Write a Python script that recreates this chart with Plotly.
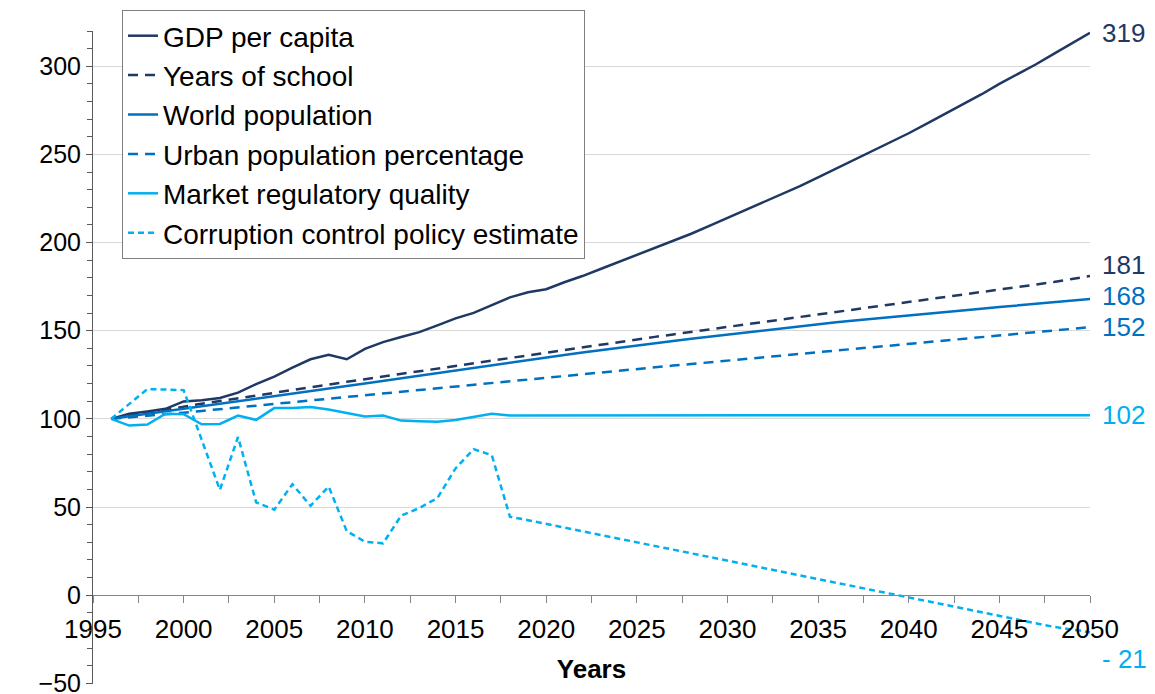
import plotly.graph_objects as go

years = list(range(1996, 2051))

gdp_per_capita = [
    100.0, 102.9, 104.2, 105.7, 109.9, 110.5, 111.8, 114.9, 119.7, 123.9,
    129.0, 133.8, 136.3, 133.8, 139.7, 143.5, 146.4, 149.2, 153.0, 157.0,
    160.1, 164.5, 168.9, 171.8, 173.5, 177.5, 181.0, 185.0, 189.0, 193.0,
    197.0, 201.0, 205.0, 209.5, 214.0, 218.5, 223.0, 227.5, 232.0, 237.0,
    242.0, 247.0, 252.0, 257.0, 262.0, 267.5, 273.0, 278.5, 284.0, 290.0,
    295.5, 301.0, 307.0, 313.0, 319.0,
]

years_of_school = [
    100.0, 101.8, 103.5, 105.2, 107.0, 108.6, 110.1, 111.7, 113.2, 114.8,
    116.3, 117.9, 119.4, 121.0, 122.5, 124.0, 125.6, 127.1, 128.7, 130.2,
    131.7, 133.3, 134.8, 136.4, 137.9, 139.3, 140.8, 142.2, 143.6, 145.0,
    146.5, 147.9, 149.3, 150.7, 152.1, 153.6, 155.0, 156.4, 157.8, 159.2,
    160.7, 162.1, 163.5, 164.9, 166.3, 167.7, 169.1, 170.5, 171.9, 173.3,
    174.8, 176.2, 177.6, 179.3, 181.0,
]

world_population = [
    100.0, 101.4, 102.8, 104.2, 105.6, 107.0, 108.4, 109.8, 111.2, 112.7,
    114.1, 115.6, 117.1, 118.6, 120.1, 121.6, 123.1, 124.6, 126.1, 127.6,
    129.1, 130.6, 132.0, 133.4, 134.8, 136.2, 137.6, 139.0, 140.3, 141.6,
    142.9, 144.2, 145.5, 146.7, 147.9, 149.1, 150.3, 151.5, 152.6, 153.7,
    154.8, 155.8, 156.8, 157.8, 158.8, 159.8, 160.7, 161.6, 162.5, 163.4,
    164.3, 165.2, 166.1, 167.0, 168.0,
]

urban_population_pct = [
    100.0, 100.8, 101.7, 102.6, 103.5, 104.5, 105.5, 106.5, 107.5, 108.5,
    109.5, 110.5, 111.5, 112.5, 113.5, 114.5, 115.5, 116.5, 117.5, 118.5,
    119.5, 120.5, 121.5, 122.5, 123.5, 124.5, 125.4, 126.4, 127.3, 128.3,
    129.2, 130.2, 131.1, 132.1, 133.0, 134.0, 134.9, 135.9, 136.8, 137.8,
    138.7, 139.7, 140.6, 141.6, 142.5, 143.5, 144.4, 145.4, 146.3, 147.3,
    148.2, 149.2, 150.1, 151.1, 152.0,
]

market_regulatory_quality = [
    100.0, 96.2, 96.8, 102.9, 102.6, 96.9, 97.1, 101.9, 99.4, 106.1,
    106.1, 106.7, 105.3, 103.2, 101.3, 101.9, 99.0, 98.7, 98.3, 99.4,
    101.0, 102.9, 101.9, 101.9, 101.9, 102.0, 102.0, 101.6, 101.6, 101.6,
    101.6, 101.6, 101.6, 101.6, 102.0, 102.0, 102.0, 102.0, 102.0, 102.0,
    102.1, 102.1, 101.7, 101.7, 101.7, 101.7, 101.7, 101.7, 101.7, 101.7,
    101.7, 101.7, 101.7, 102.0, 102.0,
]

corruption_control = [
    100.0, None, 116.9, None, 116.3, None, 59.7, 89.7, 52.6, 48.5,
    62.9, 50.7, 61.6, 36.3, 30.3, 29.4, 45.1, 49.4, 55.1, 71.9,
    82.8, 79.4, 44.5, 42.5, 40.4, 38.3, 36.2, 34.1, 32.0, 29.9,
    27.8, 25.7, 23.6, 21.5, 19.4, 17.3, 15.2, 13.1, 11.0, 8.9,
    6.8, 4.7, 2.6, 0.5, -1.6, -3.7, -5.8, -7.9, -10.0, -12.1,
    -14.2, -16.3, -18.0, -19.5, -21.0,
]

y_tick_values = [-50, 0, 50, 100, 150, 200, 250, 300]
x_tick_values = [1995, 2000, 2005, 2010, 2015, 2020, 2025, 2030, 2035, 2040, 2045, 2050]
end_labels = ["319", "181", "168", "152", "102", "- 21"]

NAVY = "#1F3864"
MID = "#0070C0"
LIGHT = "#00B0F0"
FONT = "Liberation Sans, Arial, sans-serif"

series = [
    ("GDP per capita", gdp_per_capita, NAVY, "solid"),
    ("Years of school", years_of_school, NAVY, "10px,7px"),
    ("World population", world_population, MID, "solid"),
    ("Urban population percentage", urban_population_pct, MID, "10px,7px"),
    ("Market regulatory quality", market_regulatory_quality, LIGHT, "solid"),
    ("Corruption control policy estimate", corruption_control, LIGHT, "6px,4px"),
]
label_shift = [0, 11, 3, 0, 0, -27]

fig = go.Figure()
for (name, vals, color, dash) in series:
    fig.add_trace(go.Scatter(
        x=years, y=vals, name=name, mode="lines", connectgaps=True,
        line=dict(color=color, width=2.5, dash=dash),
    ))

for (name, vals, color, dash), txt, sh in zip(series, end_labels, label_shift):
    fig.add_annotation(
        x=years[-1], y=vals[-1], text=txt, showarrow=False,
        xanchor="left", yanchor="middle", xshift=10, yshift=sh,
        font=dict(family=FONT, size=26, color=color),
    )

ymin, ymax = -50.4, 320
# the page body has an 8px margin, so the figure is 8px smaller and offset
W, H = 1147, 686
ML, MT = 85, 2
MR, MB = 65, 10
plot_h = H - MT - MB
plot_w = W - ML - MR
axis_top_px = 23  # figure px where the y axis starts
dom_top = 1 - (axis_top_px - MT) / plot_h
fig.update_layout(
    width=W, height=H,
    margin=dict(l=ML, r=MR, t=MT, b=MB, autoexpand=False),
    paper_bgcolor="white", plot_bgcolor="white",
    font=dict(family=FONT, size=24, color="black"),
    showlegend=True,
    legend=dict(
        x=(122 - 8 - ML) / plot_w, y=1, xanchor="left", yanchor="top",
        bgcolor="white", bordercolor="#7F7F7F", borderwidth=1,
        font=dict(family=FONT, size=28, color="black"),
        tracegroupgap=0,
    ),
    xaxis=dict(
        range=[1995, 2050], anchor="free",
        position=dom_top * (0 - ymin) / (ymax - ymin),
        tickmode="array", tickvals=x_tick_values,
        ticks="outside", ticklen=7, tickcolor="#868686",
        minor=dict(tick0=1995, dtick=2.5, ticks="outside", ticklen=7, tickcolor="#868686", showgrid=False),
        showline=True, linecolor="#868686", linewidth=1,
        showgrid=False, zeroline=False, automargin=False,
        ticklabelstandoff=4, ticklabeloverflow="allow",
        tickfont=dict(family=FONT, size=26, color="black"),
        title=dict(text="<b>Years</b>", font=dict(family=FONT, size=26, color="black"), standoff=16),
    ),
    yaxis=dict(
        domain=[0, dom_top],
        range=[ymin, ymax], tickmode="array", tickvals=y_tick_values,
        ticks="outside", ticklen=6, tickcolor="#595959",
        minor=dict(tick0=0, dtick=10, ticks="outside", ticklen=5, tickcolor="#595959", showgrid=False),
        showline=True, linecolor="#595959", linewidth=1,
        showgrid=True, gridcolor="#D9D9D9", gridwidth=1,
        zeroline=False, ticklabeloverflow="allow", automargin=False,
        tickfont=dict(family=FONT, size=25, color="black"),
    ),
)

fig.write_html("out.html")
